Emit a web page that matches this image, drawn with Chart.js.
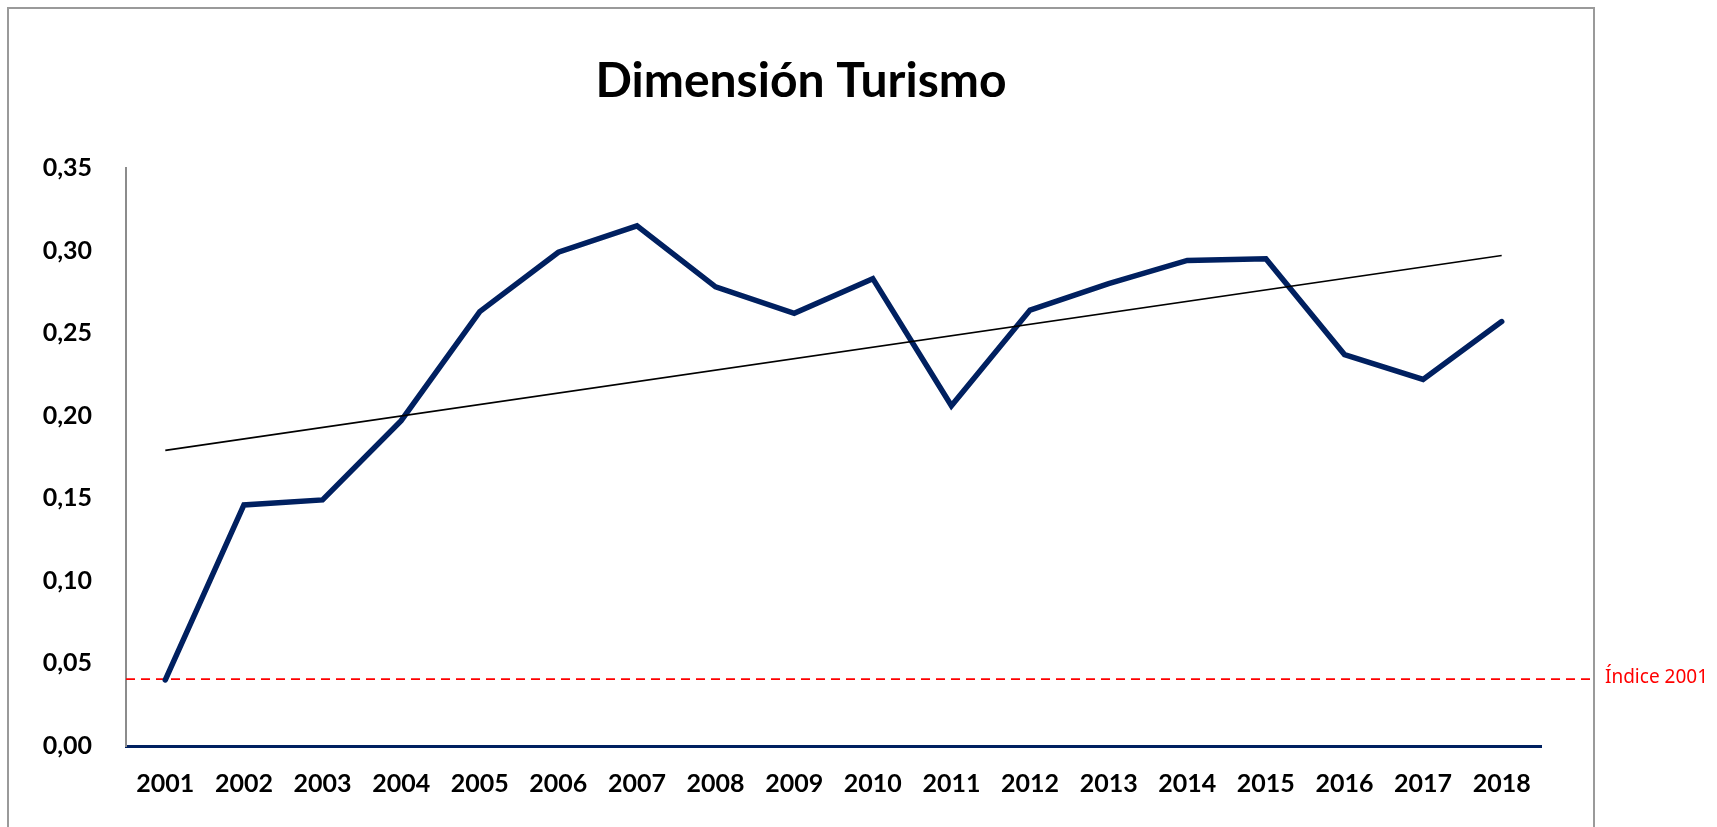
<!DOCTYPE html>
<html>
<head>
<meta charset="utf-8">
<script src="https://cdn.jsdelivr.net/npm/chart.js@4"></script>
<style>
  html, body { margin: 0; padding: 0; background: #ffffff; }
  #wrap { width: 1717px; height: 827px; position: relative; }
</style>
</head>
<body>
<div id="wrap"><canvas id="c" width="1717" height="827"></canvas></div>
<script>
// ---- data ----
const years = ['2001','2002','2003','2004','2005','2006','2007','2008','2009','2010','2011','2012','2013','2014','2015','2016','2017','2018'];
const turismo = [0.040, 0.146, 0.149, 0.197, 0.263, 0.299, 0.315, 0.278, 0.262, 0.283, 0.206, 0.264, 0.280, 0.294, 0.295, 0.237, 0.222, 0.257];
const trendStart = 0.179;   // trend line value at 2001
const trendEnd = 0.297;     // trend line value at 2018
const indice2001 = 0.0405;  // reference level "Índice 2001"
const yTickLabels = ['0,00','0,05','0,10','0,15','0,20','0,25','0,30','0,35'];
const titleText = 'Dimensión Turismo';
const refLabel = 'Índice 2001';

const trendData = years.map((y, i) => i === 0 ? trendStart : (i === years.length - 1 ? trendEnd : null));

const frameAndRef = {
  id: 'frameAndRef',
  beforeDraw(chart) {
    const ctx = chart.ctx;
    ctx.save();
    ctx.fillStyle = '#ffffff';
    ctx.fillRect(0, 0, chart.width, chart.height);
    ctx.strokeStyle = '#9a9a9a';
    ctx.lineWidth = 2;
    ctx.strokeRect(8, 8, 1586, 900);
    ctx.restore();
  },
  beforeDatasetsDraw(chart) {
    const ctx = chart.ctx;
    const y = chart.scales.y.getPixelForValue(indice2001);
    ctx.save();
    ctx.strokeStyle = '#ff0000';
    ctx.lineWidth = 1.6;
    ctx.setLineDash([9, 6]);
    ctx.beginPath();
    ctx.moveTo(chart.chartArea.left, y);
    ctx.lineTo(1593, y);
    ctx.stroke();
    ctx.restore();
  },
  afterDraw(chart) {
    const ctx = chart.ctx;
    const y = chart.scales.y.getPixelForValue(indice2001);
    ctx.save();
    ctx.fillStyle = '#ff0000';
    ctx.font = '19px "Noto Sans"';
    ctx.textAlign = 'left';
    ctx.textBaseline = 'middle';
    ctx.fillText(refLabel, 1605, y - 2);
    ctx.restore();
  }
};

new Chart(document.getElementById('c'), {
  type: 'line',
  data: {
    labels: years,
    datasets: [
      {
        label: 'Turismo',
        data: turismo,
        borderColor: '#002060',
        backgroundColor: '#002060',
        borderWidth: 5.5,
        pointRadius: 0,
        tension: 0,
        borderCapStyle: 'round',
        borderJoinStyle: 'miter',
        order: 2
      },
      {
        label: 'Tendencia',
        data: trendData,
        borderColor: '#000000',
        borderWidth: 1.6,
        pointRadius: 0,
        spanGaps: true,
        tension: 0,
        order: 1
      }
    ]
  },
  options: {
    responsive: false,
    animation: false,
    devicePixelRatio: 1,
    layout: { padding: { left: 0, right: 115, top: 0, bottom: 0 } },
    plugins: {
      legend: { display: false },
      tooltip: { enabled: false },
      title: {
        display: true,
        text: titleText,
        color: '#000000',
        font: { family: 'Lato', weight: 'bold', size: 48, lineHeight: 1.2 },
        padding: { top: 52.7, bottom: 57.7 }
      }
    },
    scales: {
      x: {
        type: 'category',
        offset: true,
        grid: { display: false, drawTicks: false },
        border: { display: true, color: '#002060', width: 3 },
        ticks: {
          color: '#000000',
          font: { family: 'Lato', weight: 'bold', size: 25 },
          padding: 23,
          maxRotation: 0,
          autoSkip: false
        },
        afterFit(scale) { scale.height = 81; }
      },
      y: {
        min: 0,
        max: 0.35,
        grid: { display: false, drawTicks: false },
        border: { display: true, color: '#8c8c8c', width: 2 },
        ticks: {
          stepSize: 0.05,
          color: '#000000',
          font: { family: 'Lato', weight: 'bold', size: 25 },
          padding: 34,
          callback: (v, i) => yTickLabels[i]
        },
        afterFit(scale) { scale.width = 126; }
      },
      yR: {
        position: 'right',
        display: true,
        grid: { display: false, drawTicks: false },
        border: { display: false },
        ticks: { display: false },
        afterFit(scale) { scale.width = 61; }
      }
    }
  },
  plugins: [frameAndRef]
});
</script>
</body>
</html>
